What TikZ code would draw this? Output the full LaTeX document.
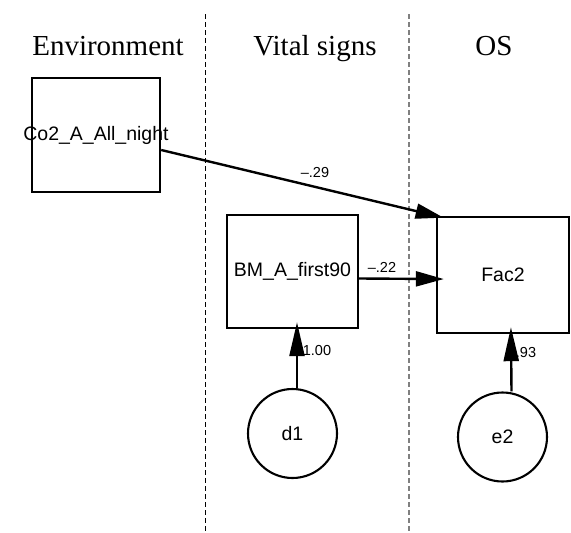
\documentclass[tikz,border=0pt]{standalone}
\usepackage{fontspec}
\setmainfont{Liberation Serif}
\newfontfamily\gothic{Liberation Sans}
\usetikzlibrary{arrows.meta}

\begin{document}
\begin{tikzpicture}[x=1pt,y=-1pt,
  varbox/.style={draw, line width=2.4pt, inner sep=0pt,
    font=\gothic\fontsize{19.5}{19.5}\selectfont},
  errcirc/.style={draw, circle, line width=2.1pt, minimum size=89pt, inner sep=0pt,
    font=\gothic\fontsize{19.5}{19.5}\selectfont},
  link/.style={line width=2.4pt, -{Triangle[length=28pt,width=15pt]}, shorten >=-8pt},
  uplink/.style={line width=2.4pt, -{Triangle[length=34pt,width=15pt]}, shorten >=-7pt},
  coef/.style={font=\gothic\fontsize{14.5}{14.5}\selectfont, inner sep=0pt},
  header/.style={font=\fontsize{29}{29}\selectfont, anchor=base, inner sep=0pt},
  divider/.style={dash pattern=on 5pt off 3pt, line width=0.9pt}]
\useasboundingbox (0,0) rectangle (571,533);

% column headings and dividers
\node[header] (hEnv) at (108,55) {Environment};
\node[header] (hVit) at (315,55) {Vital signs};
\node[header] (hOS)  at (494,55) {OS};
\draw[divider] (205,14) -- (205,533);
\draw[divider, gray, line width=1.2pt] (409,14) -- (409,533);

% observed variables (labels may run past the frame)
\node[varbox, minimum width=128pt, minimum height=114pt] (co2) at (96,135) {\makebox[0pt]{Co2\_A\_All\_night}};
\node[varbox, minimum width=131pt, minimum height=113pt] (bm)  at (292.5,271.5) {\makebox[0pt]{BM\_A\_first90}};
\node[varbox, minimum width=132pt, minimum height=116pt] (fac) at (503,275) {\makebox[0pt]{Fac2}};

% error terms
\node[errcirc] (d1) at (292.5,433.5) {d1};
\node[errcirc] (e2) at (502.5,437) {e2};

% path coefficients
\node[coef] (c29) at (315,173) {–.29};
\node[coef] (c22) at (382,267) {–.22};
\node[coef] (c100) at (317,351) {1.00};
\node[coef] (c93) at (526,353) {.93};

% regression paths
\draw[link] ([yshift=-15pt]co2.east) -- (fac.north west);
\draw[link] ([yshift=-7pt]bm.east) -- ([yshift=-4pt]fac.west);
\draw[uplink] ([xshift=4.5pt]d1.north) -- ([xshift=4.5pt]bm.south);
\draw[uplink] ([xshift=9pt]e2.north) -- ([xshift=8pt]fac.south);
\end{tikzpicture}
\end{document}
